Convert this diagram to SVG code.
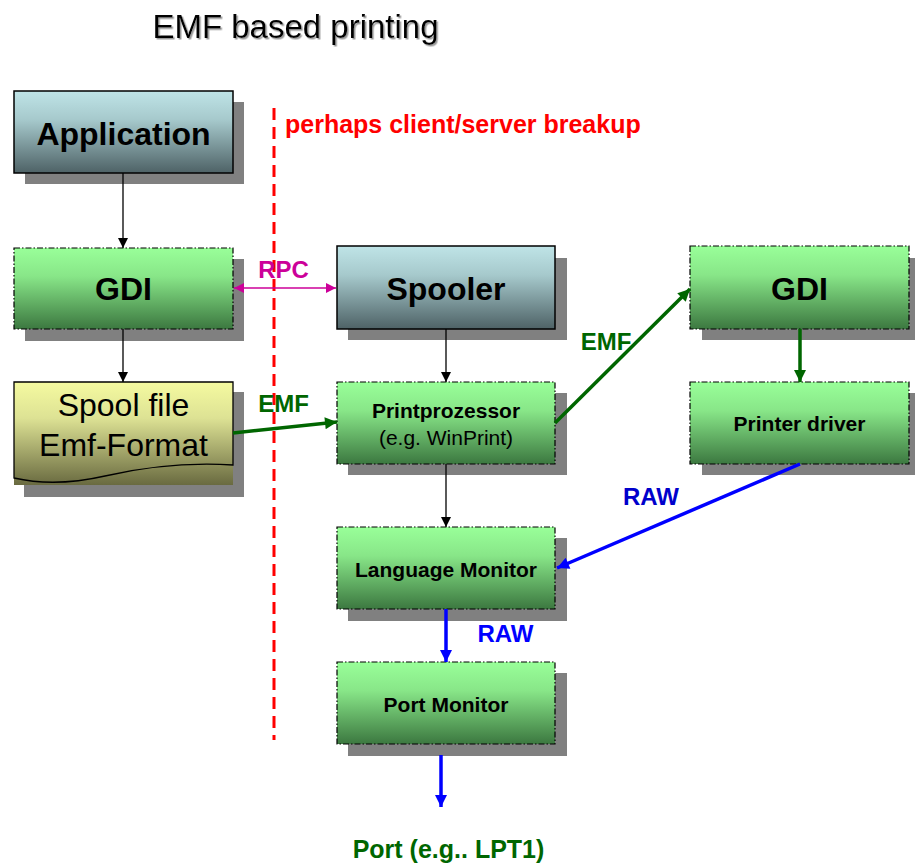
<svg xmlns="http://www.w3.org/2000/svg" width="915" height="865" viewBox="0 0 915 865">
<defs>
<linearGradient id="gGreen" x1="0" y1="0" x2="0" y2="1"><stop offset="0" stop-color="#99FF99"/><stop offset="0.35" stop-color="#88E688"/><stop offset="1" stop-color="#3C7840"/></linearGradient>
<linearGradient id="gBlue" x1="0" y1="0" x2="0" y2="1"><stop offset="0" stop-color="#BFE4E7"/><stop offset="0.35" stop-color="#A6C9CC"/><stop offset="1" stop-color="#4E6266"/></linearGradient>
<linearGradient id="gYellow" x1="0" y1="0" x2="0" y2="1"><stop offset="0" stop-color="#F5FAA0"/><stop offset="0.35" stop-color="#DDE294"/><stop offset="1" stop-color="#696A40"/></linearGradient>
<filter id="tshadow" x="-5%" y="-20%" width="110%" height="140%"><feDropShadow dx="1.5" dy="1.5" stdDeviation="0.6" flood-color="#999999"/></filter>
<marker id="aBlack" viewBox="0 0 10 10" refX="10" refY="5" markerWidth="11" markerHeight="10" markerUnits="userSpaceOnUse" orient="auto"><path d="M0,0 L10,5 L0,10 z" fill="#000"/></marker>
<marker id="aMag" viewBox="0 0 10 10" refX="10" refY="5" markerWidth="11" markerHeight="10" markerUnits="userSpaceOnUse" orient="auto-start-reverse"><path d="M0,0 L10,5 L0,10 z" fill="#CC0099"/></marker>
<marker id="aGreen" viewBox="0 0 10 10" refX="10" refY="5" markerWidth="13" markerHeight="12" markerUnits="userSpaceOnUse" orient="auto"><path d="M0,0 L10,5 L0,10 z" fill="#006600"/></marker>
<marker id="aBlue" viewBox="0 0 10 10" refX="10" refY="5" markerWidth="13" markerHeight="12" markerUnits="userSpaceOnUse" orient="auto"><path d="M0,0 L10,5 L0,10 z" fill="#0000FF"/></marker>
</defs>
<style>
.shadow{fill:#808080}
.green{fill:url(#gGreen);stroke:#000;stroke-width:1.2;stroke-dasharray:6 2 1.5 2}
.blue{fill:url(#gBlue);stroke:#000;stroke-width:1.5}
.big{font-family:"Liberation Sans",Arial,sans-serif;font-weight:bold;font-size:32px;text-anchor:middle;fill:#000}
.mid{font-family:"Liberation Sans",Arial,sans-serif;font-weight:bold;font-size:21px;text-anchor:middle;fill:#000}
.reg{font-family:"Liberation Sans",Arial,sans-serif;font-size:21px;text-anchor:middle;fill:#000}
.lbl{font-family:"Liberation Sans",Arial,sans-serif;font-weight:bold;font-size:24px;text-anchor:middle}
.cb{fill:none;stroke:#000;stroke-width:1.3}
.cg{fill:none;stroke:#006600;stroke-width:3.5}
.cl{fill:none;stroke:#0000FF;stroke-width:3.5}
</style>
<text x="295.5" y="38" font-family="Liberation Sans, Arial, sans-serif" font-size="33" text-anchor="middle" fill="#000" filter="url(#tshadow)">EMF based printing</text>
<line x1="274" y1="108" x2="274" y2="740" stroke="#FF0000" stroke-width="3" stroke-dasharray="12 7"/>
<text x="285" y="133" font-family="Liberation Sans, Arial, sans-serif" font-weight="bold" font-size="25" fill="#FF0000">perhaps client/server breakup</text>
<g id="application"><rect class="shadow" x="25" y="102" width="219" height="82"/><rect class="blue" x="14" y="91" width="219" height="82"/><text class="big" x="123.5" y="145">Application</text></g>
<g id="gdi-left"><rect class="shadow" x="25" y="259" width="219" height="82"/><rect class="green" x="14" y="248" width="219" height="81"/><text class="big" x="123.5" y="300">GDI</text></g>
<g id="spoolfile"><rect class="shadow" x="24" y="392" width="220" height="105"/><rect x="14" y="382" width="219" height="103" fill="url(#gYellow)"/><path d="M14,382 H233 V465 C185,462 140,468 105,476 C70,484 40,484 14,478 Z" fill="none" stroke="#000" stroke-width="1.3"/><text x="123.5" y="416" font-family="Liberation Sans, Arial, sans-serif" font-size="32" text-anchor="middle">Spool file</text><text x="123.5" y="456" font-family="Liberation Sans, Arial, sans-serif" font-size="32" text-anchor="middle">Emf-Format</text></g>
<g id="spooler"><rect class="shadow" x="348" y="258" width="219" height="82"/><rect class="blue" x="337" y="246" width="218" height="83"/><text class="big" x="446" y="300">Spooler</text></g>
<g id="printprozessor"><rect class="shadow" x="348" y="393" width="219" height="82"/><rect class="green" x="337" y="382" width="218" height="82"/><text class="mid" x="446" y="418">Printprozessor</text><text class="reg" x="446" y="445">(e.g. WinPrint)</text></g>
<g id="gdi-right"><rect class="shadow" x="702" y="258" width="220" height="82"/><rect class="green" x="690" y="246" width="219" height="83"/><text class="big" x="799.5" y="300">GDI</text></g>
<g id="printerdriver"><rect class="shadow" x="702" y="393" width="220" height="82"/><rect class="green" x="690" y="382" width="219" height="82"/><text class="mid" x="799.5" y="431">Printer driver</text></g>
<g id="languagemonitor"><rect class="shadow" x="348" y="538" width="219" height="83"/><rect class="green" x="337" y="527" width="218" height="82"/><text class="mid" x="446" y="577">Language Monitor</text></g>
<g id="portmonitor"><rect class="shadow" x="348" y="673" width="219" height="83"/><rect class="green" x="337" y="662" width="218" height="82"/><text class="mid" x="446" y="712">Port Monitor</text></g>
<g id="connectors">
<line class="cb" x1="123" y1="173" x2="123" y2="248" marker-end="url(#aBlack)"/>
<line class="cb" x1="123" y1="329" x2="123" y2="382" marker-end="url(#aBlack)"/>
<line x1="234" y1="288" x2="336" y2="288" stroke="#CC0099" stroke-width="1.5" marker-start="url(#aMag)" marker-end="url(#aMag)"/>
<line class="cb" x1="446" y1="329" x2="446" y2="382" marker-end="url(#aBlack)"/>
<line class="cb" x1="446" y1="464" x2="446" y2="527" marker-end="url(#aBlack)"/>
<line class="cg" x1="233" y1="433" x2="337" y2="422" marker-end="url(#aGreen)"/>
<line class="cg" x1="555" y1="423" x2="690" y2="289" marker-end="url(#aGreen)"/>
<line class="cg" x1="800" y1="329" x2="800" y2="382" marker-end="url(#aGreen)"/>
<line class="cl" x1="800" y1="464" x2="557" y2="568" marker-end="url(#aBlue)"/>
<line class="cl" x1="446" y1="609" x2="446" y2="662" marker-end="url(#aBlue)"/>
<line class="cl" x1="441" y1="755" x2="441" y2="807" marker-end="url(#aBlue)"/>
<text class="lbl" x="283.5" y="278" fill="#CC0099">RPC</text>
<text class="lbl" x="283.5" y="412" fill="#006600">EMF</text>
<text class="lbl" x="606" y="350" fill="#006600">EMF</text>
<text class="lbl" x="651" y="505" fill="#0000CC">RAW</text>
<text class="lbl" x="505.5" y="642" fill="#0000FF">RAW</text>
</g>
<text x="448.5" y="858" font-family="Liberation Sans, Arial, sans-serif" font-weight="bold" font-size="25" text-anchor="middle" fill="#006600">Port (e.g.. LPT1)</text>
</svg>
